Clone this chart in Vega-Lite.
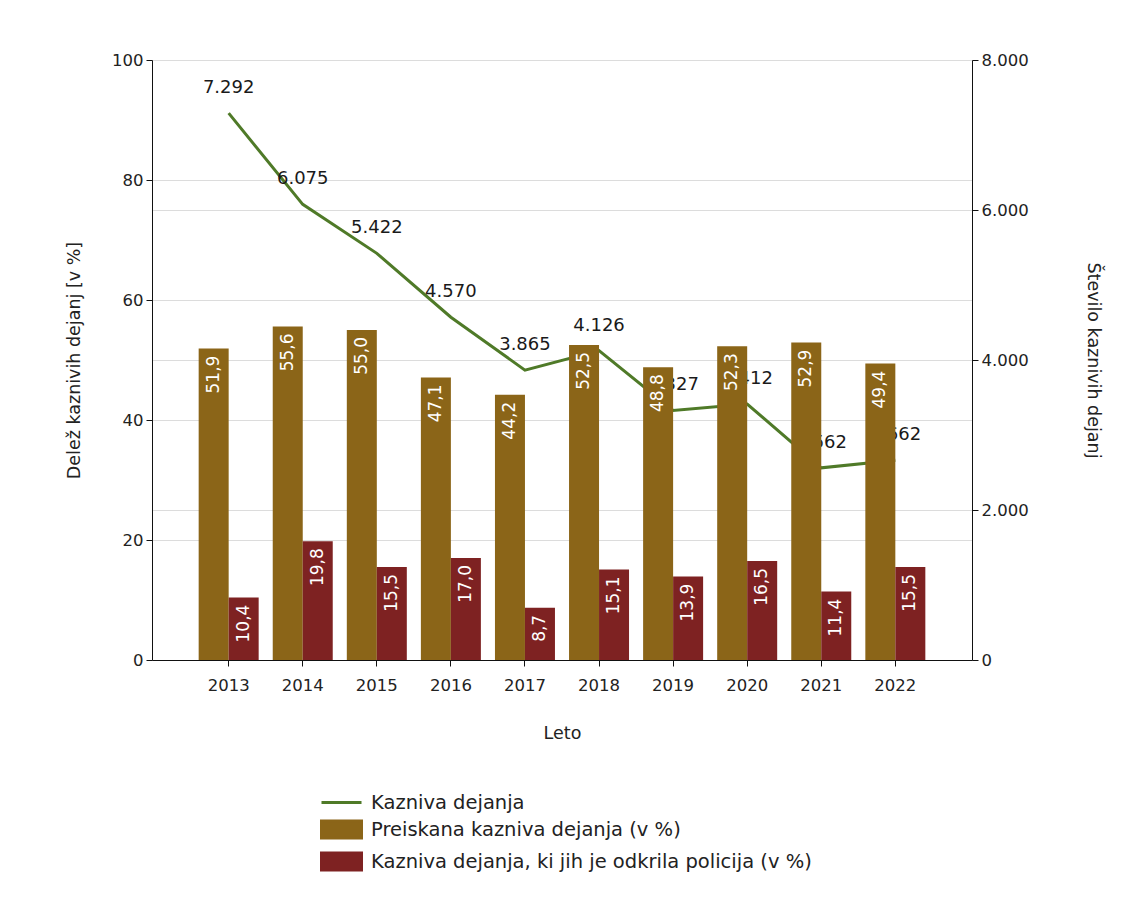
{
  "$schema": "https://vega.github.io/schema/vega-lite/v6.json",
  "width": 820,
  "height": 600,
  "autosize": {"type": "none"},
  "padding": {"left": 152, "top": 60, "right": 160, "bottom": 258},
  "background": "white",
  "config": {
    "font": "DejaVu Sans",
    "view": {"stroke": null},
    "locale": {"number": {"decimal": ",", "thousands": ".", "grouping": [3], "currency": ["", " €"]}},
    "axis": {"labelFont": "DejaVu Sans", "titleFont": "DejaVu Sans", "labelFontSize": 16.5, "titleFontSize": 17.5, "titleFontWeight": "normal", "labelColor": "#222", "titleColor": "#222", "domainColor": "#111", "tickColor": "#111", "gridColor": "#dcdcdc"}
  },
  "datasets": {
    "line": [
      {"year": "2013", "count": 7292},
      {"year": "2014", "count": 6075},
      {"year": "2015", "count": 5422},
      {"year": "2016", "count": 4570},
      {"year": "2017", "count": 3865},
      {"year": "2018", "count": 4126},
      {"year": "2019", "count": 3327},
      {"year": "2020", "count": 3412},
      {"year": "2021", "count": 2562},
      {"year": "2022", "count": 2662}
    ],
    "bars": [
      {"year": "2013", "series": "Preiskana kazniva dejanja (v %)", "pct": 51.9},
      {"year": "2014", "series": "Preiskana kazniva dejanja (v %)", "pct": 55.6},
      {"year": "2015", "series": "Preiskana kazniva dejanja (v %)", "pct": 55.0},
      {"year": "2016", "series": "Preiskana kazniva dejanja (v %)", "pct": 47.1},
      {"year": "2017", "series": "Preiskana kazniva dejanja (v %)", "pct": 44.2},
      {"year": "2018", "series": "Preiskana kazniva dejanja (v %)", "pct": 52.5},
      {"year": "2019", "series": "Preiskana kazniva dejanja (v %)", "pct": 48.8},
      {"year": "2020", "series": "Preiskana kazniva dejanja (v %)", "pct": 52.3},
      {"year": "2021", "series": "Preiskana kazniva dejanja (v %)", "pct": 52.9},
      {"year": "2022", "series": "Preiskana kazniva dejanja (v %)", "pct": 49.4},
      {"year": "2013", "series": "Kazniva dejanja, ki jih je odkrila policija (v %)", "pct": 10.4},
      {"year": "2014", "series": "Kazniva dejanja, ki jih je odkrila policija (v %)", "pct": 19.8},
      {"year": "2015", "series": "Kazniva dejanja, ki jih je odkrila policija (v %)", "pct": 15.5},
      {"year": "2016", "series": "Kazniva dejanja, ki jih je odkrila policija (v %)", "pct": 17.0},
      {"year": "2017", "series": "Kazniva dejanja, ki jih je odkrila policija (v %)", "pct": 8.7},
      {"year": "2018", "series": "Kazniva dejanja, ki jih je odkrila policija (v %)", "pct": 15.1},
      {"year": "2019", "series": "Kazniva dejanja, ki jih je odkrila policija (v %)", "pct": 13.9},
      {"year": "2020", "series": "Kazniva dejanja, ki jih je odkrila policija (v %)", "pct": 16.5},
      {"year": "2021", "series": "Kazniva dejanja, ki jih je odkrila policija (v %)", "pct": 11.4},
      {"year": "2022", "series": "Kazniva dejanja, ki jih je odkrila policija (v %)", "pct": 15.5}
    ]
  },
  "encoding": {
    "x": {
      "field": "year", "type": "nominal",
      "scale": {"paddingInner": 0.19, "paddingOuter": 0.63},
      "axis": {"title": "Leto", "labelAngle": 0, "labelPadding": 11, "titlePadding": 31, "tickSize": 6, "grid": false}
    }
  },
  "layer": [
    {
      "data": {"name": "line"},
      "layer": [
        {"mark": {"type": "line", "strokeWidth": 3, "color": "#4F7A28"},
         "encoding": {
           "y": {"field": "count", "type": "quantitative", "scale": {"domain": [0, 8000]},
                 "axis": {"orient": "right", "title": "Število kaznivih dejanj", "format": ",.0f", "values": [0, 2000, 4000, 6000, 8000], "grid": true, "tickSize": 6, "titlePadding": 55, "labelPadding": 3}},
           "color": {"datum": "Kazniva dejanja", "type": "nominal"}
         }},
        {"mark": {"type": "text", "dy": -25, "fontSize": 18, "color": "#1a1a1a", "baseline": "middle"},
         "encoding": {
           "y": {"field": "count", "type": "quantitative"},
           "text": {"field": "count", "type": "quantitative", "format": ",.0f"}
         }}
      ]
    },
    {
      "data": {"name": "bars"},
      "layer": [
        {"mark": {"type": "bar"},
         "encoding": {
           "xOffset": {"field": "series", "type": "nominal", "sort": ["Preiskana kazniva dejanja (v %)", "Kazniva dejanja, ki jih je odkrila policija (v %)"], "scale": {"paddingInner": 0, "paddingOuter": 0}},
           "y": {"field": "pct", "type": "quantitative", "scale": {"domain": [0, 100]},
                 "axis": {"orient": "left", "title": "Delež kaznivih dejanj [v %]", "values": [0, 20, 40, 60, 80, 100], "grid": true, "tickSize": 6, "titlePadding": 28, "labelPadding": 3}},
           "color": {"field": "series", "type": "nominal",
             "scale": {"domain": ["Kazniva dejanja", "Preiskana kazniva dejanja (v %)", "Kazniva dejanja, ki jih je odkrila policija (v %)"], "range": ["#4F7A28", "#8B6518", "#7E2222"]},
             "legend": {
               "orient": "none", "legendX": 178, "legendY": 731, "title": null,
               "labelFontSize": 19.5, "labelFont": "DejaVu Sans", "labelColor": "#222", "labelLimit": 700,
               "symbolSize": 400, "rowPadding": 3, "labelOffset": 18, "symbolStrokeWidth": 3,
               "symbolOpacity": 1,
               "encode": {
                 "symbols": {"update": {
                   "shape": {"signal": "datum.value === 'Kazniva dejanja' ? 'M-2,0H2' : 'M-2,-0.85H2V0.85H-2Z'"},
                   "stroke": {"signal": "datum.value === 'Kazniva dejanja' ? '#4F7A28' : 'transparent'"},
                   "strokeWidth": {"value": 3},
                   "fill": {"signal": "datum.value === 'Kazniva dejanja' ? 'transparent' : (datum.value === 'Preiskana kazniva dejanja (v %)' ? '#8B6518' : '#7E2222')"},
                   "opacity": {"value": 1}
                 }}
               }
             }}
         }},
        {"mark": {"type": "text", "angle": 270, "align": "right", "baseline": "middle", "dx": -7, "fontSize": 17, "color": "white"},
         "encoding": {
           "xOffset": {"field": "series", "type": "nominal", "sort": ["Preiskana kazniva dejanja (v %)", "Kazniva dejanja, ki jih je odkrila policija (v %)"]},
           "y": {"field": "pct", "type": "quantitative"},
           "text": {"field": "pct", "type": "quantitative", "format": ".1f"}
         }}
      ]
    }
  ],
  "resolve": {"scale": {"y": "independent"}}
}
